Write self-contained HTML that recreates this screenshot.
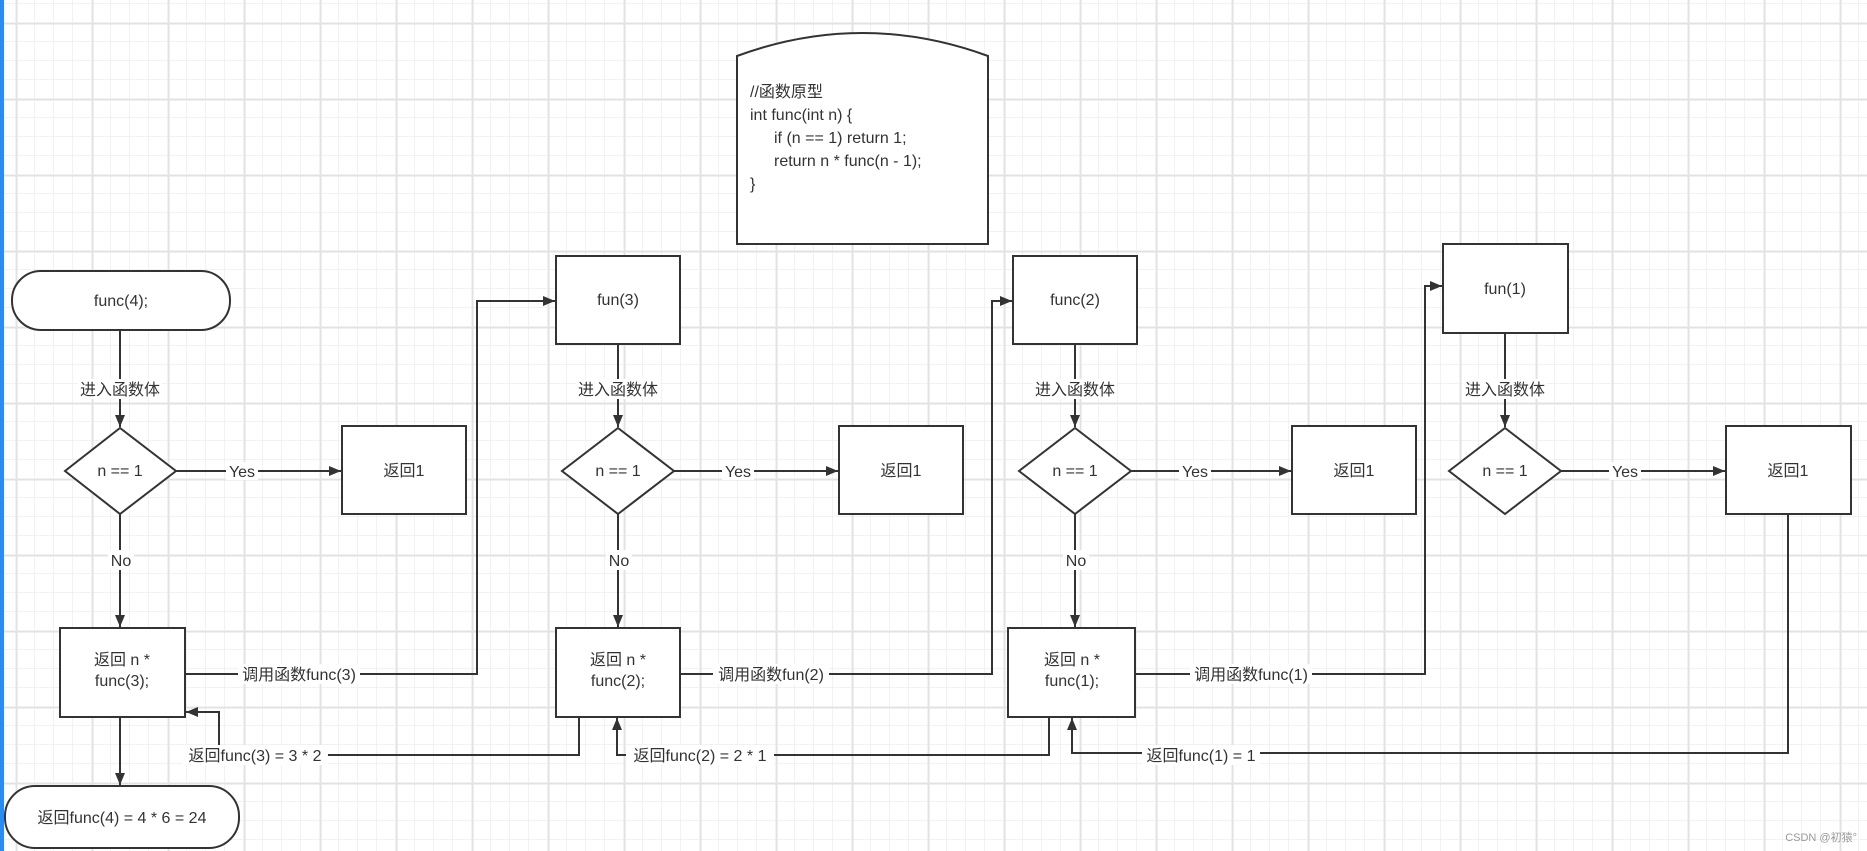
<!DOCTYPE html>
<html><head><meta charset="utf-8"><style>
html,body{margin:0;padding:0;background:#fff;}
svg{display:block;font-family:"Liberation Sans","Noto Sans CJK SC",sans-serif;}
</style></head><body>
<svg width="1867" height="851" viewBox="0 0 1867 851" xmlns="http://www.w3.org/2000/svg">
<defs>
<pattern id="minor" width="19" height="19" patternUnits="userSpaceOnUse" x="16" y="4">
<path d="M19 0V19M0 19H19" stroke="#eeeeee" stroke-width="1.5" fill="none"/>
</pattern>
<pattern id="major" width="76" height="76" patternUnits="userSpaceOnUse" x="16" y="23">
<path d="M0.5 0V76M0 0.5H76" stroke="#e2e2e2" stroke-width="2" fill="none"/>
</pattern>
<marker id="ar" markerWidth="12" markerHeight="10" refX="12" refY="5" orient="auto" markerUnits="userSpaceOnUse">
<path d="M0 0L12 5L0 10Z" fill="#333"/>
</marker>
</defs>
<rect width="1867" height="851" fill="#fff"/>
<rect width="1867" height="851" fill="url(#minor)"/>
<rect width="1867" height="851" fill="url(#major)"/>
<rect x="0" y="0" width="4" height="851" fill="#2a8cf0"/>

<g stroke="#333" stroke-width="2" fill="#fff">
<!-- code box -->
<path d="M737 56 Q862 10 988 56 V244 H737 Z"/>
<!-- col1 -->
<rect x="12" y="271" width="218" height="59" rx="29"/>
<path d="M120 428 L176 471 L120 514 L65 471 Z"/>
<rect x="342" y="426" width="124" height="88"/>
<rect x="60" y="628" width="125" height="89"/>
<rect x="5" y="786" width="234" height="62" rx="30"/>
<!-- col2 -->
<rect x="556" y="256" width="124" height="88"/>
<path d="M618 428 L674 471 L618 514 L562 471 Z"/>
<rect x="839" y="426" width="124" height="88"/>
<rect x="556" y="628" width="124" height="89"/>
<!-- col3 -->
<rect x="1013" y="256" width="124" height="88"/>
<path d="M1075 428 L1131 471 L1075 514 L1019 471 Z"/>
<rect x="1292" y="426" width="124" height="88"/>
<rect x="1008" y="628" width="127" height="89"/>
<!-- col4 -->
<rect x="1443" y="244" width="125" height="89"/>
<path d="M1505 428 L1561 471 L1505 514 L1449 471 Z"/>
<rect x="1726" y="426" width="125" height="88"/>
</g>

<g stroke="#333" stroke-width="2" fill="none" marker-end="url(#ar)">
<path d="M120 330V427"/>
<path d="M176 471H341"/>
<path d="M120 514V627"/>
<path d="M120 717V785"/>
<path d="M185 674H477V301H555"/>
<path d="M579 717V755H219V712H186"/>

<path d="M618 344V427"/>
<path d="M674 471H838"/>
<path d="M618 514V627"/>
<path d="M680 674H992V301H1012"/>
<path d="M1049 717V755H617V718"/>

<path d="M1075 344V427"/>
<path d="M1131 471H1291"/>
<path d="M1075 514V627"/>
<path d="M1135 674H1425V286H1442"/>
<path d="M1788 514V753H1072V718"/>

<path d="M1505 333V427"/>
<path d="M1561 471H1725"/>
</g>

<g font-size="16" fill="#333" text-anchor="middle">
<text x="121" y="306">func(4);</text>
<text x="120" y="476">n == 1</text>
<text x="404" y="476">返回1</text>
<text x="122" y="665">返回 n *</text>
<text x="122" y="686">func(3);</text>
<text x="122" y="823">返回func(4) = 4 * 6 = 24</text>

<text x="618" y="305">fun(3)</text>
<text x="618" y="476">n == 1</text>
<text x="901" y="476">返回1</text>
<text x="618" y="665">返回 n *</text>
<text x="618" y="686">func(2);</text>

<text x="1075" y="305">func(2)</text>
<text x="1075" y="476">n == 1</text>
<text x="1354" y="476">返回1</text>
<text x="1072" y="665">返回 n *</text>
<text x="1072" y="686">func(1);</text>

<text x="1505" y="294">fun(1)</text>
<text x="1505" y="476">n == 1</text>
<text x="1788" y="476">返回1</text>
</g>

<g font-size="16" fill="#333" text-anchor="middle">
<g fill="#fff" stroke="none">
<rect x="78" y="379" width="84" height="20"/>
<rect x="576" y="379" width="84" height="20"/>
<rect x="1033" y="379" width="84" height="20"/>
<rect x="1463" y="379" width="84" height="20"/>
<rect x="226" y="462" width="32" height="18"/>
<rect x="722" y="462" width="32" height="18"/>
<rect x="1179" y="462" width="32" height="18"/>
<rect x="1609" y="462" width="32" height="18"/>
<rect x="108" y="550" width="26" height="20"/>
<rect x="606" y="550" width="26" height="20"/>
<rect x="1063" y="550" width="26" height="20"/>
<rect x="238" y="664" width="122" height="20"/>
<rect x="713" y="664" width="116" height="20"/>
<rect x="1190" y="664" width="122" height="20"/>
<rect x="182" y="745" width="146" height="20"/>
<rect x="626" y="745" width="148" height="20"/>
<rect x="1142" y="745" width="118" height="20"/>
</g>
<text x="120" y="395">进入函数体</text>
<text x="618" y="395">进入函数体</text>
<text x="1075" y="395">进入函数体</text>
<text x="1505" y="395">进入函数体</text>
<text x="242" y="477">Yes</text>
<text x="738" y="477">Yes</text>
<text x="1195" y="477">Yes</text>
<text x="1625" y="477">Yes</text>
<text x="121" y="566">No</text>
<text x="619" y="566">No</text>
<text x="1076" y="566">No</text>
<text x="299" y="680">调用函数func(3)</text>
<text x="771" y="680">调用函数fun(2)</text>
<text x="1251" y="680">调用函数func(1)</text>
<text x="255" y="761">返回func(3) = 3 * 2</text>
<text x="700" y="761">返回func(2) = 2 * 1</text>
<text x="1201" y="761">返回func(1) = 1</text>
</g>

<g font-size="16" fill="#333">
<text x="750" y="97">//函数原型</text>
<text x="750" y="120">int func(int n) {</text>
<text x="774" y="143">if (n == 1) return 1;</text>
<text x="774" y="166">return n * func(n - 1);</text>
<text x="750" y="189">}</text>
</g>
<text x="1857" y="841" font-size="11" fill="#999" text-anchor="end">CSDN @初猿°</text>
</svg>
</body></html>
